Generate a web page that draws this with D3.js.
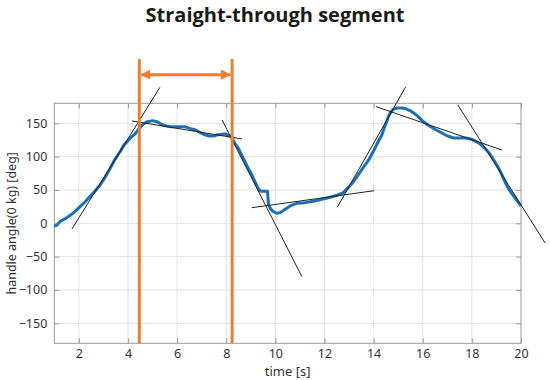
<!DOCTYPE html>
<head>
  <meta charset="utf-8">
  <style>
    body { margin: 0; background: #fff; }
    svg .grid { stroke: #e3e3e3; stroke-width: 1px; }
    svg .box { fill: none; stroke: #9a9a9a; stroke-width: 1px; }
    svg .tick-label { font: 12.5px "Noto Sans", "DejaVu Sans", sans-serif; fill: #333; }
    svg .axis-label { font: 13px "Noto Sans", "DejaVu Sans", sans-serif; fill: #333; }
    svg .title { font: bold 20px "Open Sans", sans-serif; fill: #1a1a1a; }
  </style>
</head>

<body>
<script src="https://d3js.org/d3.v7.min.js"></script>

<script>
  // handle angle, blue trace [time s, angle deg]
  var timeVals = [1.0, 1.1, 1.25, 1.45, 1.65, 1.85, 2.05, 2.25, 2.45, 2.65, 2.86, 3.05, 3.27, 3.47, 3.67, 3.85, 3.95, 4.1, 4.29, 4.45,
    4.6, 4.75, 5.0, 5.2, 5.44, 5.7, 6.05, 6.3, 6.55, 6.75, 7.05, 7.3, 7.5, 7.65, 7.95, 8.1, 8.22, 8.35, 8.5, 8.7,
    8.9, 9.05, 9.2, 9.3, 9.4, 9.68, 9.72, 9.8, 9.9, 10.05, 10.2, 10.4, 10.6, 10.87, 11.2, 11.55, 11.9, 12.23, 12.5, 12.77,
    13.0, 13.17, 13.4, 13.58, 13.8, 13.99, 14.15, 14.33, 14.45, 14.53, 14.6, 14.67, 14.8, 14.95, 15.15, 15.3, 15.48, 15.65, 15.82, 16.0,
    16.23, 16.5, 16.7, 16.95, 17.25, 17.5, 17.72, 17.9, 18.06, 18.25, 18.4, 18.55, 18.67, 18.8, 18.94, 19.1, 19.22, 19.35, 19.49, 19.62,
    19.76, 19.9, 20.0];
  var angleVals = [-4, -3, 3, 7, 12, 18, 25, 32, 40, 48, 57, 68, 82, 96, 107, 118, 122, 128, 134, 142,
    148, 152, 154, 152, 147, 145, 145, 145, 142, 140, 134, 131, 131, 133, 134, 132, 129, 120, 112, 97,
    82, 72, 60, 52, 48, 48, 28, 22, 18, 15, 16, 21, 26, 30, 31, 33, 36, 39, 42, 46,
    55, 62, 74, 84, 95, 108, 120, 132, 145, 152, 160, 165, 171, 173, 173, 172, 169, 165, 160, 153,
    147, 141, 137, 132, 128, 128, 128, 127, 125, 121, 117, 112, 107, 100, 92, 82, 73, 62, 52, 45,
    38, 31, 26];

  // fitted tangent lines [t1, a1, t2, a2]
  var tangents = [
    [1.72, -8.5, 5.3, 204],
    [4.16, 153.5, 8.64, 126.5],
    [7.83, 155, 11.08, -80],
    [9.04, 23.4, 14.02, 48.9],
    [12.52, 24, 15.31, 205],
    [14.1, 175, 19.22, 110],
    [17.43, 177.5, 20.98, -29.5]
  ];

  // straight-through segment bounds
  var segment = [4.46, 8.24];

  var xTicks = [2, 4, 6, 8, 10, 12, 14, 16, 18, 20];
  var yTicks = [-150, -100, -50, 0, 50, 100, 150];

  var width = 550, height = 380;
  var plot = { left: 54.3, right: 521, top: 103.3, bottom: 343.3 };

  var svg = d3.select("body")
    .append("svg")
      .attr("width", width)
      .attr("height", height);

  var xScale = d3.scaleLinear().domain([1, 20]).range([plot.left, plot.right]);
  var yScale = d3.scaleLinear().domain([-180, 180]).range([plot.bottom, plot.top]);

  // grid
  svg.append("g").selectAll("line.vx")
    .data(xTicks.filter(function (d) { return d < 20; }))
    .enter().append("line")
      .classed("grid", true)
      .attr("x1", function (d) { return xScale(d); })
      .attr("x2", function (d) { return xScale(d); })
      .attr("y1", plot.top)
      .attr("y2", plot.bottom);

  svg.append("g").selectAll("line.hy")
    .data(yTicks)
    .enter().append("line")
      .classed("grid", true)
      .attr("x1", plot.left)
      .attr("x2", plot.right)
      .attr("y1", function (d) { return yScale(d); })
      .attr("y2", function (d) { return yScale(d); });

  // axes, matlab style: ticks inside on all four sides
  var bottomAxis = d3.axisBottom(xScale).tickValues(xTicks).tickSize(-5).tickSizeOuter(0).tickPadding(6);
  var topAxis = d3.axisTop(xScale).tickValues(xTicks).tickSize(-5).tickSizeOuter(0).tickFormat("");
  var leftAxis = d3.axisLeft(yScale).tickValues(yTicks).tickSize(-5).tickSizeOuter(0).tickPadding(7)
    .tickFormat(function (d) { return d < 0 ? "\u2212" + Math.abs(d) : d; });
  var rightAxis = d3.axisRight(yScale).tickValues(yTicks).tickSize(-5).tickSizeOuter(0).tickFormat("");

  [[bottomAxis, "translate(0," + plot.bottom + ")"],
   [topAxis, "translate(0," + plot.top + ")"],
   [leftAxis, "translate(" + plot.left + ",0)"],
   [rightAxis, "translate(" + plot.right + ",0)"]].forEach(function (a) {
    var g = svg.append("g").attr("transform", a[1]).call(a[0]);
    g.select(".domain").remove();
    g.selectAll(".tick line").attr("stroke", "#9a9a9a");
    g.selectAll(".tick text").attr("class", "tick-label").attr("font-size", null).attr("font-family", null);
  });

  svg.append("rect")
    .classed("box", true)
    .attr("x", plot.left)
    .attr("y", plot.top)
    .attr("width", plot.right - plot.left)
    .attr("height", plot.bottom - plot.top);

  // data trace
  var trace = d3.line()
    .x(function (i) { return xScale(timeVals[i]); })
    .y(function (i) { return yScale(angleVals[i]); });

  svg.append("path")
    .attr("d", trace(d3.range(timeVals.length)))
    .style("fill", "none")
    .style("stroke", "#1a6fb5")
    .style("stroke-width", "3px")
    .style("stroke-linejoin", "round");

  // tangent lines
  svg.append("g").selectAll("line")
    .data(tangents)
    .enter().append("line")
      .attr("x1", function (d) { return xScale(d[0]); })
      .attr("y1", function (d) { return yScale(d[1]); })
      .attr("x2", function (d) { return xScale(d[2]); })
      .attr("y2", function (d) { return yScale(d[3]); })
      .style("stroke", "#222")
      .style("stroke-width", "1px");

  // orange segment markers
  var orange = "#ed7d31";
  svg.append("g").selectAll("line")
    .data(segment)
    .enter().append("line")
      .attr("x1", function (d) { return xScale(d); })
      .attr("x2", function (d) { return xScale(d); })
      .attr("y1", yScale(-180))
      .attr("y2", yScale(246.5))
      .style("stroke", orange)
      .style("stroke-width", "3px");

  var defs = svg.append("defs");
  defs.append("marker")
      .attr("id", "head")
      .attr("viewBox", "0 0 10 10")
      .attr("refX", 9)
      .attr("refY", 5)
      .attr("markerWidth", 3.4)
      .attr("markerHeight", 3.4)
      .attr("orient", "auto-start-reverse")
    .append("path")
      .attr("d", "M0,0 L10,5 L0,10 z")
      .style("fill", orange);

  svg.append("line")
    .attr("x1", xScale(segment[0]) + 2)
    .attr("x2", xScale(segment[1]) - 2)
    .attr("y1", yScale(223))
    .attr("y2", yScale(223))
    .attr("marker-start", "url(#head)")
    .attr("marker-end", "url(#head)")
    .style("stroke", orange)
    .style("stroke-width", "3px");

  // labels
  svg.append("text")
    .attr("class", "title")
    .attr("x", 275)
    .attr("y", 22)
    .style("text-anchor", "middle")
    .text("Straight-through segment");

  svg.append("text")
    .attr("class", "axis-label")
    .attr("x", (plot.left + plot.right) / 2)
    .attr("y", 376)
    .style("text-anchor", "middle")
    .text("time [s]");

  svg.append("text")
    .attr("class", "axis-label")
    .attr("transform", "translate(16," + ((plot.top + plot.bottom) / 2) + ") rotate(-90)")
    .style("text-anchor", "middle")
    .style("font-size", "12.5px")
    .text("handle angle(0 kg) [deg]");
</script>
</body>
</html>
